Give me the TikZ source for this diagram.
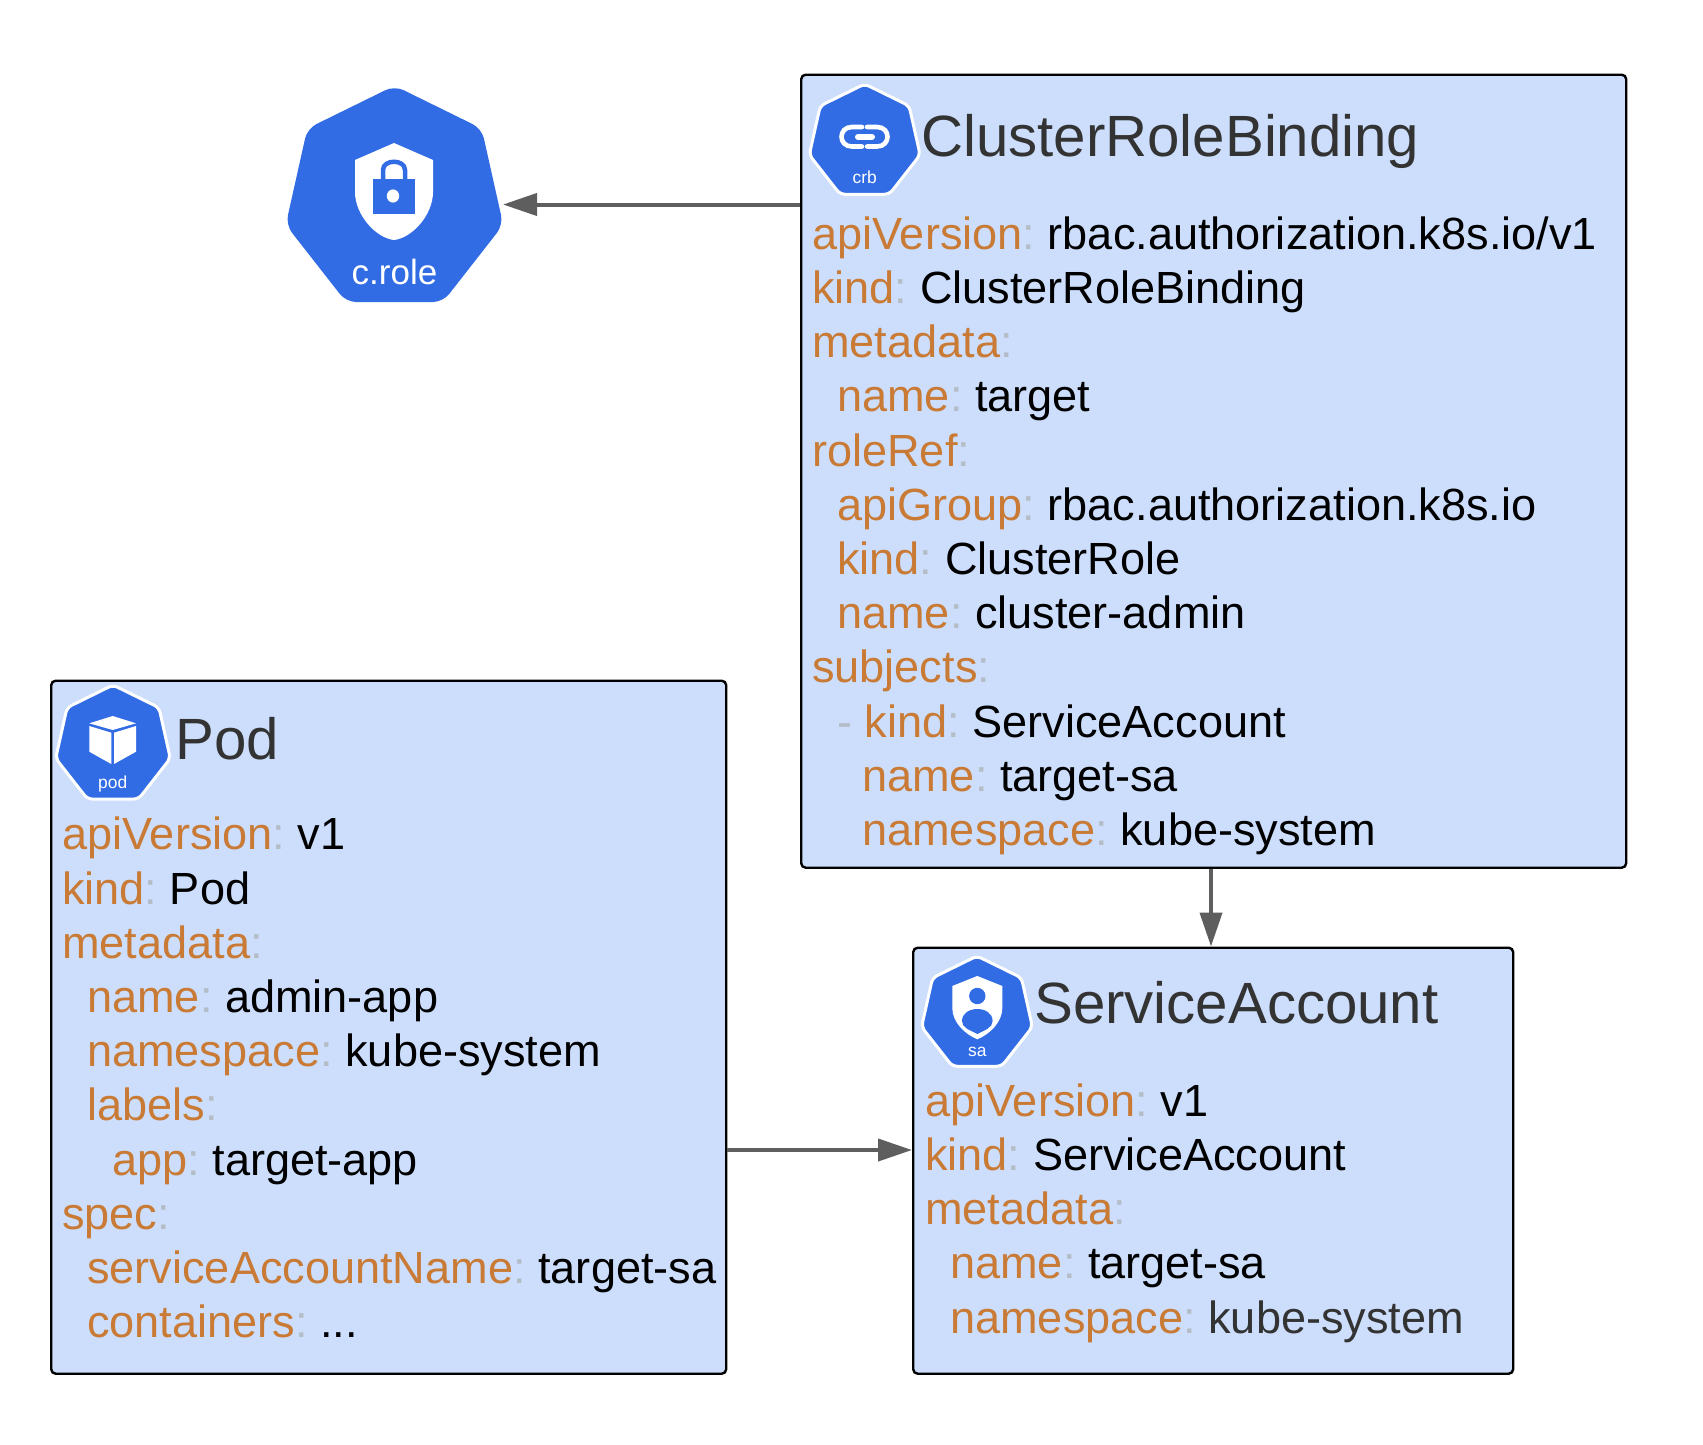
\documentclass[tikz,border=0pt]{standalone}
\usepackage{fontspec}
\setmainfont{Liberation Sans}
\usetikzlibrary{shapes.geometric,arrows.meta}
\definecolor{boxfill}{HTML}{CCDEFC}
\definecolor{k8sblue}{HTML}{326CE5}
\definecolor{keyc}{HTML}{C97A35}
\definecolor{colc}{HTML}{B4BCC6}
\definecolor{titlec}{HTML}{333333}
\definecolor{arrowc}{HTML}{5E5E5E}
\newcommand\kv[3][0]{\strut\hspace*{#1pt}\textcolor{keyc}{#2}\textcolor{colc}{:} #3\\}
\tikzset{
  box/.style={draw=black,line width=2.4pt,fill=boxfill,rounded corners=4.5pt,anchor=north west,inner sep=0pt},
  hept/.style={regular polygon,regular polygon sides=7,fill=k8sblue,inner sep=0pt,rounded corners=#1,transform shape,xscale=.98},
  hept/.default=5pt,
  heptw/.style={hept,draw=white,line width=3pt},
  yaml/.style={anchor=north west,align=left,inner sep=0pt,font=\frenchspacing\fontsize{45.1}{54.22}\selectfont},
  boxtitle/.style={anchor=base west,inner sep=0pt,text=titlec,font=\fontsize{58.2}{66}\selectfont},
  small/.style={anchor=base,inner sep=0pt,text=white,font=\fontsize{17.4}{20}\selectfont},
  conn/.style={draw=arrowc,line width=4pt,-{Triangle[length=34pt,width=22pt]}},
  ico/.style={fill=white,draw=none},
  icob/.style={fill=k8sblue,draw=none}
}
\begin{document}
\begin{tikzpicture}[x=1pt,y=-1pt]
\useasboundingbox (0,0) rectangle (1703,1444);

% boxes
\node[box,minimum width=825pt,minimum height=793pt] (crb) at (800,73.5) {};
\node[box,minimum width=675pt,minimum height=693pt] (pod) at (50,679.5) {};
\node[box,minimum width=600pt,minimum height=426pt] (sa) at (912,946.5) {};

% c.role
\node[hept=10pt,minimum size=227.6pt] (role) at (394.5,199.5) {};
\path[ico] (394,143)--(433,160)--(433,192) .. controls (433,215) and (412,238) .. (394,240) .. controls (376,238) and (355,215) .. (355,192)--(355,160)--cycle;
\draw[k8sblue,line width=4.5pt] (383,180)--(383,170) .. controls (383,159) and (405,159) .. (405,170)--(405,180);
\path[icob] (373.4,179) rectangle (415,214);
\path[ico] (393,196) ellipse (6.2 and 6.6);
\node[anchor=base,inner sep=0pt,text=white,font=\fontsize{35}{40}\selectfont] (rolelabel) at (394.5,284) {c.role};

% ClusterRoleBinding
\node[heptw,minimum size=116pt] (crbicon) at (864.7,142) {};
\draw[white,line width=4.6pt,line cap=round] (862,127)--(852,127) .. controls (838,127) and (838,146.5) .. (852,146.5)--(862,146.5);
\draw[white,line width=4.6pt,line cap=round] (867,127)--(877,127) .. controls (891,127) and (891,146.5) .. (877,146.5)--(867,146.5);
\draw[white,line width=6pt,line cap=round] (858,137)--(872,137);
\node[small] (crblabel) at (864.7,183) {crb};
\node[boxtitle] (crbtitle) at (921,156) {ClusterRoleBinding};
\node[yaml] (crbyaml) at (812,211) {%
\kv{apiVersion}{rbac.authorization.k8s.io/v1}
\kv{kind}{ClusterRoleBinding}
\kv{metadata}{}
\kv[25]{name}{target}
\kv{roleRef}{}
\kv[25]{apiGroup}{rbac.authorization.k8s.io}
\kv[25]{kind}{ClusterRole}
\kv[25]{name}{cluster-admin}
\kv{subjects}{}
\kv[25]{\textcolor{colc}{-} kind}{ServiceAccount}
\kv[50]{name}{target-sa}
\strut\hspace*{50pt}\textcolor{keyc}{namespace}\textcolor{colc}{:} kube-system};

% Pod
\node[heptw,minimum size=120pt] (podicon) at (113,745) {};
\path[ico] (112.7,716)--(136,723.3)--(112.7,730)--(89.3,723.3)--cycle;
\path[ico] (89.3,726)--(111.3,732.7)--(111.3,764)--(89.3,751.7)--cycle;
\path[ico] (114,732.7)--(136,726)--(136,751.7)--(114,764)--cycle;
\node[small] (podlabel) at (112.7,788) {pod};
\node[boxtitle] (podtitle) at (175,759) {Pod};
\node[yaml] (podyaml) at (62,811.7) {%
\kv{apiVersion}{v1}
\kv{kind}{Pod}
\kv{metadata}{}
\kv[25]{name}{admin-app}
\kv[25]{namespace}{kube-system}
\kv[25]{labels}{}
\kv[50]{app}{target-app}
\kv{spec}{}
\kv[25]{serviceAccountName}{target-sa}
\strut\hspace*{25pt}\textcolor{keyc}{containers}\textcolor{colc}{:} ...};

% ServiceAccount
\node[heptw,minimum size=116pt] (saicon) at (977,1014) {};
\path[ico] (977.3,976)--(1002.3,986)--(1002.3,1008) .. controls (1002.3,1022) and (990,1034) .. (977.3,1039.3) .. controls (964.6,1034) and (952.3,1022) .. (952.3,1008)--(952.3,986)--cycle;
\path[icob] (977.3,996) circle (8.2);
\path[icob] (977.3,1034) .. controls (970,1030) and (962,1028) .. (962,1021) .. controls (962,1005) and (992.6,1005) .. (992.6,1021) .. controls (992.6,1028) and (984.6,1030) .. (977.3,1034) -- cycle;
\node[small] (salabel) at (977.3,1056) {sa};
\node[boxtitle] (satitle) at (1034,1023) {ServiceAccount};
\node[yaml] (sayaml) at (925,1078) {%
\kv{apiVersion}{v1}
\kv{kind}{ServiceAccount}
\kv{metadata}{}
\kv[25]{name}{target-sa}
\strut\hspace*{25pt}\textcolor{keyc}{namespace}\textcolor{colc}{:} \textcolor{titlec}{kube-system}};

% connectors
\coordinate (rolein) at (503,204.5);
\coordinate (crbout) at (crb.west |- rolein);
\coordinate (sain) at (1211,0 |- sa.north);
\coordinate (crbdown) at (1211,0 |- crb.south);
\coordinate (podout) at (726,1150);
\coordinate (podport) at (pod.east |- podout);
\coordinate (saport) at (sa.west |- podout);
\draw[conn] (crbout) -- (rolein);
\draw[conn] (crbdown) -- (sain);
\draw[conn] (podport) -- (saport);
\end{tikzpicture}
\end{document}
